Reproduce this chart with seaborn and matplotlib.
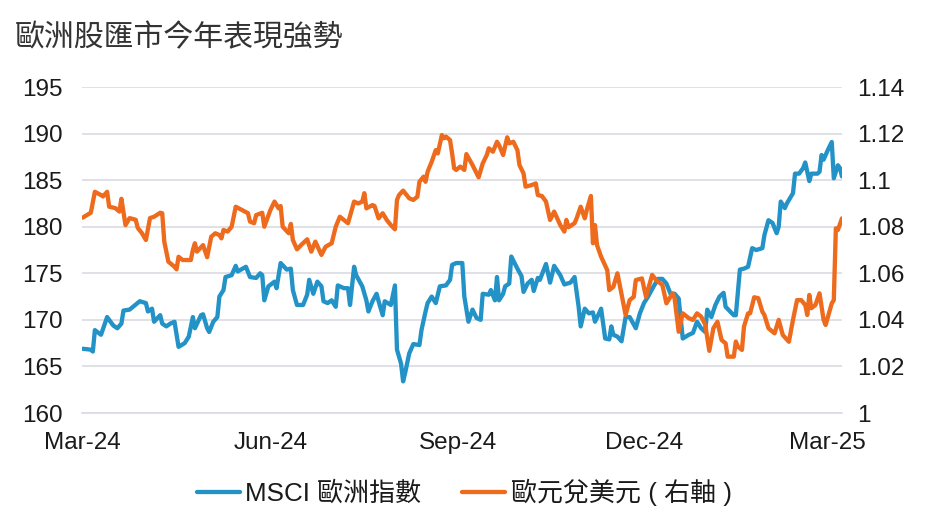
import pandas as pd
import matplotlib.pyplot as plt
import matplotlib.dates as mdates
import seaborn as sns

# Days counted from 2024-03-01
msci_days = [0, 4, 5, 6, 9, 12, 15, 17, 19, 20, 23, 28, 31, 32, 34, 35, 38, 39, 41, 43,
             45, 47, 50, 52, 54, 55, 58, 59, 61, 62, 64, 66, 67, 69, 70, 73, 75, 76, 80, 82,
             85, 87, 88, 89, 91, 94, 95, 97, 100, 102, 103, 105, 108, 110, 111, 113, 115, 117, 118, 120,
             122, 124, 125, 128, 130, 131, 133, 134, 137, 139, 140, 142, 144, 145, 147, 148, 151, 153, 154, 156,
             157, 158, 160, 162, 165, 166, 168, 169, 171, 173, 175, 178, 180, 181, 183, 186, 187, 189, 191, 193,
             195, 196, 199, 200, 202, 203, 204, 206, 207, 209, 210, 213, 215, 216, 218, 220, 221, 223, 224, 227,
             229, 231, 234, 236, 239, 241, 243, 244, 246, 248, 250, 251, 253, 254, 256, 258, 259, 260, 262, 264,
             266, 268, 271, 273, 275, 277, 280, 282, 284, 286, 288, 290, 292, 294, 297, 299, 301, 303, 305, 306,
             308, 310, 312, 314, 315, 319, 320, 322, 324, 326, 328, 330, 333, 334, 336, 338, 340, 341, 342, 344,
             345, 348, 349, 351, 353, 354, 356, 357, 360, 361, 362, 363, 365, 367, 368, 370, 371, 372]
msci_vals = [166.9, 166.8, 166.6, 168.9, 168.4, 170.3, 169.4, 169.1, 169.6, 171.0, 171.1, 172.0, 171.8, 170.9, 171.2, 169.8, 170.5, 169.6, 169.3, 169.6,
             169.8, 167.1, 167.5, 168.2, 170.3, 169.1, 170.5, 170.6, 169.1, 168.7, 169.8, 170.3, 172.5, 173.2, 174.6, 174.8, 175.8, 175.2, 175.7, 174.6,
             174.5, 175.0, 174.8, 172.1, 173.6, 174.1, 173.4, 176.1, 175.4, 175.5, 173.2, 171.6, 171.6, 172.7, 174.3, 172.8, 174.1, 173.6, 172.0, 171.8,
             172.1, 171.4, 173.7, 173.4, 173.4, 171.6, 175.7, 174.8, 173.6, 172.1, 170.9, 172.0, 172.8, 172.0, 170.5, 172.0, 171.6, 173.7, 166.8, 165.3,
             163.4, 164.3, 166.4, 167.4, 167.3, 168.9, 170.9, 171.8, 172.5, 171.8, 173.6, 173.7, 174.3, 175.9, 176.1, 176.1, 172.5, 169.8, 171.1, 170.2,
             170.0, 172.8, 172.7, 173.2, 172.1, 174.6, 172.1, 172.8, 173.6, 173.9, 176.8, 175.5, 174.7, 173.0, 173.9, 174.3, 173.1, 174.5, 174.3, 176.0,
             174.0, 175.8, 174.8, 173.8, 174.0, 174.6, 171.4, 169.3, 171.2, 170.7, 170.8, 169.8, 170.7, 171.2, 168.0, 167.9, 169.3, 168.4, 168.2, 167.7,
             170.3, 170.3, 169.1, 170.7, 171.8, 172.5, 173.7, 174.4, 174.4, 173.9, 172.8, 172.8, 172.3, 168.0, 168.4, 168.6, 169.8, 169.1, 168.7, 171.1,
             170.3, 171.6, 172.5, 172.9, 171.4, 170.5, 170.5, 175.4, 175.5, 175.7, 177.7, 177.5, 177.7, 179.1, 180.7, 180.4, 179.3, 180.0, 182.7, 182.0,
             182.5, 183.6, 185.7, 185.7, 186.3, 186.9, 184.9, 185.7, 185.7, 185.9, 187.7, 187.2, 188.2, 189.1, 185.2, 186.6, 186.3, 185.4]

eur_days = [0, 4, 6, 9, 10, 12, 13, 16, 18, 19, 21, 23, 26, 27, 29, 31, 33, 35, 38, 39,
            40, 42, 45, 46, 47, 49, 53, 54, 55, 56, 59, 61, 63, 65, 67, 68, 69, 71, 73, 75,
            78, 81, 82, 84, 85, 88, 89, 92, 94, 96, 97, 98, 101, 102, 103, 105, 107, 110, 112, 114,
            117, 119, 122, 124, 126, 130, 133, 135, 137, 138, 139, 142, 143, 145, 147, 149, 151, 153, 154, 155,
            157, 160, 162, 164, 165, 167, 168, 169, 171, 173, 174, 176, 177, 178, 180, 181, 182, 183, 185, 187,
            188, 191, 194, 196, 198, 199, 201, 203, 204, 206, 208, 209, 211, 213, 214, 216, 217, 220, 222, 223,
            225, 227, 229, 231, 234, 236, 237, 238, 241, 242, 244, 246, 247, 249, 250, 251, 252, 254, 257, 258,
            260, 262, 266, 268, 270, 271, 274, 276, 279, 281, 284, 286, 289, 290, 292, 294, 297, 299, 301, 303,
            305, 307, 309, 311, 313, 315, 316, 319, 320, 321, 323, 324, 326, 327, 329, 331, 333, 334, 336, 339,
            341, 343, 346, 348, 350, 352, 354, 355, 356, 357, 359, 361, 363, 364, 367, 368, 369, 370, 372]
eur_vals = [1.0839, 1.0860, 1.0950, 1.0936, 1.0930, 1.0950, 1.0886, 1.0880, 1.0865, 1.0920, 1.0807, 1.0837, 1.0830, 1.0795, 1.0773, 1.0743, 1.0837, 1.0843, 1.0860, 1.0858,
            1.0736, 1.0650, 1.0628, 1.0617, 1.0671, 1.0657, 1.0657, 1.0700, 1.0729, 1.0693, 1.0721, 1.0669, 1.0757, 1.0772, 1.0764, 1.0750, 1.0786, 1.0779, 1.0800, 1.0886,
            1.0872, 1.0858, 1.0822, 1.0815, 1.0850, 1.0860, 1.0800, 1.0872, 1.0908, 1.0879, 1.0889, 1.0800, 1.0772, 1.0812, 1.0743, 1.0703, 1.0721, 1.0746, 1.0693, 1.0736,
            1.0679, 1.0714, 1.0729, 1.0800, 1.0843, 1.0815, 1.0908, 1.0900, 1.0908, 1.0944, 1.0879, 1.0893, 1.0889, 1.0836, 1.0858, 1.0829, 1.0807, 1.0789, 1.0915, 1.0936,
            1.0955, 1.0922, 1.0915, 1.0929, 1.0993, 1.1015, 1.0993, 1.1036, 1.1079, 1.1129, 1.1115, 1.1194, 1.1180, 1.1187, 1.1172, 1.1115, 1.1051, 1.1044, 1.1058, 1.1044,
            1.1112, 1.1065, 1.1012, 1.1072, 1.1108, 1.1137, 1.1122, 1.1165, 1.1151, 1.1108, 1.1184, 1.1158, 1.1165, 1.1129, 1.1065, 1.1029, 1.0972, 1.0979, 1.0986, 1.0936,
            1.0932, 1.0908, 1.0829, 1.0865, 1.0807, 1.0779, 1.0829, 1.0798, 1.0815, 1.0836, 1.0886, 1.0836, 1.0872, 1.0932, 1.0729, 1.0807, 1.0721, 1.0671, 1.0614, 1.0528,
            1.0542, 1.0600, 1.0421, 1.0485, 1.0499, 1.0571, 1.0578, 1.0499, 1.0593, 1.0571, 1.0550, 1.0471, 1.0514, 1.0493, 1.0349, 1.0428, 1.0407, 1.0400, 1.0428, 1.0414,
            1.0380, 1.0267, 1.0364, 1.0392, 1.0314, 1.0299, 1.0242, 1.0242, 1.0307, 1.0285, 1.0271, 1.0371, 1.0428, 1.0428, 1.0497, 1.0493, 1.0435, 1.0421, 1.0364, 1.0342,
            1.0400, 1.0335, 1.0306, 1.0400, 1.0485, 1.0485, 1.0464, 1.0421, 1.0507, 1.0450, 1.0464, 1.0514, 1.0400, 1.0378, 1.0471, 1.0485, 1.0793, 1.0786, 1.0836]

start = pd.Timestamp('2024-03-01')
msci = pd.DataFrame({'date': start + pd.to_timedelta(msci_days, unit='D'), 'value': msci_vals})
eur = pd.DataFrame({'date': start + pd.to_timedelta(eur_days, unit='D'), 'value': eur_vals})

month_ticks = pd.to_datetime(['2024-03-01', '2024-06-01', '2024-09-01', '2024-12-01', '2025-03-01'])
left_ticks = [160, 165, 170, 175, 180, 185, 190, 195]
right_ticks = [1.00, 1.02, 1.04, 1.06, 1.08, 1.10, 1.12, 1.14]
series_names = ['MSCI 歐洲指數', '歐元兌美元 ( 右軸 )']

blue = '#2392c7'
orange = '#ee6a1c'

sns.set_style('white')
plt.rcParams['font.family'] = ['Liberation Sans', 'Noto Sans CJK TC', 'DejaVu Sans']
plt.rcParams['text.color'] = '#1a1a1a'

fig = plt.figure(figsize=(9.32, 5.18), dpi=100)
ax = fig.add_axes([0.088, 0.2027, 0.8154, 0.6293])
ax2 = ax.twinx()

sns.lineplot(data=msci, x='date', y='value', ax=ax, color=blue, linewidth=3.1, legend=False)
sns.lineplot(data=eur, x='date', y='value', ax=ax2, color=orange, linewidth=3.1, legend=False)

ax.set_xlim(start - pd.Timedelta(days=0.3), start + pd.Timedelta(days=372))
ax.set_ylim(160, 195)
ax2.set_ylim(1.0, 1.14)
ax.set_yticks(left_ticks)
ax2.set_yticks(right_ticks)
ax2.set_yticklabels([f'{t:g}' for t in right_ticks])
ax.set_xticks(month_ticks)
ax.xaxis.set_major_formatter(mdates.DateFormatter('%b-%y'))

ax.grid(axis='y', color='#d9dce3', linewidth=1.2)
ax.grid(axis='x', visible=False)
ax2.grid(False)
ax.set_axisbelow(True)

for a in (ax, ax2):
    for side in ('top', 'left', 'right', 'bottom'):
        a.spines[side].set_visible(False)
ax.spines['bottom'].set_visible(True)
ax.spines['bottom'].set_color('#d9dce3')
ax.spines['bottom'].set_linewidth(1.2)

ax.set_xlabel('')
ax.set_ylabel('')
ax2.set_ylabel('')
ax.tick_params(axis='y', length=0, pad=14, labelsize=17.5, labelcolor='#1a1a1a')
ax2.tick_params(axis='y', length=0, pad=11, labelsize=17.5, labelcolor='#1a1a1a')
ax.tick_params(axis='x', length=5, width=1.2, color='#d9dce3', pad=9, labelsize=17.5, labelcolor='#1a1a1a')

fig.text(0.016, 0.928, '歐洲股匯市今年表現強勢', fontsize=21.5, color='#333333',
         family=['Noto Sans CJK TC'], va='center', ha='left')

handles = ax.get_lines()[:1] + ax2.get_lines()[:1]
fig.legend(handles, series_names, loc='center',
           bbox_to_anchor=(0.498, 0.05), ncol=2, frameon=False, fontsize=18.7,
           handlelength=1.65, handletextpad=0.2, columnspacing=1.6)

fig.savefig('out.png', dpi=100)
